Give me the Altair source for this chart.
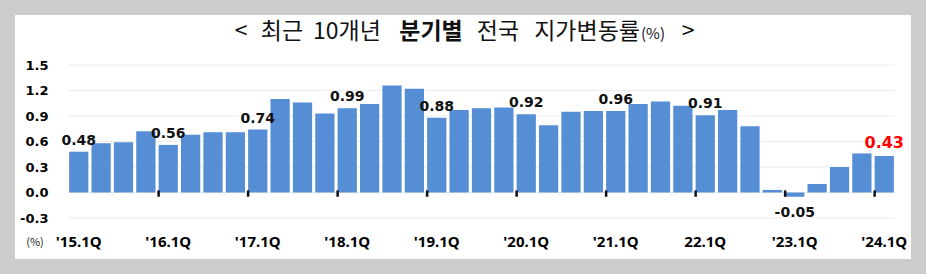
import altair as alt
import pandas as pd

# ---- data ----
quarters = [
    "'15.1Q", "15.2Q", "15.3Q", "15.4Q",
    "'16.1Q", "16.2Q", "16.3Q", "16.4Q",
    "'17.1Q", "17.2Q", "17.3Q", "17.4Q",
    "'18.1Q", "18.2Q", "18.3Q", "18.4Q",
    "'19.1Q", "19.2Q", "19.3Q", "19.4Q",
    "'20.1Q", "20.2Q", "20.3Q", "20.4Q",
    "'21.1Q", "21.2Q", "21.3Q", "21.4Q",
    "22.1Q", "22.2Q", "22.3Q", "22.4Q",
    "'23.1Q", "23.2Q", "23.3Q", "23.4Q",
    "'24.1Q",
]
rates = [
    0.48, 0.58, 0.59, 0.72,
    0.56, 0.68, 0.71, 0.71,
    0.74, 1.10, 1.06, 0.93,
    0.99, 1.04, 1.26, 1.22,
    0.88, 0.97, 0.99, 1.00,
    0.92, 0.79, 0.95, 0.96,
    0.96, 1.04, 1.07, 1.02,
    0.91, 0.97, 0.78, 0.03,
    -0.05, 0.10, 0.30, 0.46,
    0.43,
]
tick_labels = ["'15.1Q", "'16.1Q", "'17.1Q", "'18.1Q", "'19.1Q",
               "'20.1Q", "'21.1Q", "22.1Q", "'23.1Q", "'24.1Q"]
labels_above = ["'15.1Q", "'16.1Q", "'17.1Q", "'18.1Q", "'19.1Q",
                "'20.1Q", "'21.1Q", "22.1Q"]
labels_below = ["'23.1Q"]
labels_highlight = ["'24.1Q"]
y_ticks = [-0.3, 0.0, 0.3, 0.6, 0.9, 1.2, 1.5]

df = pd.DataFrame({"q": quarters, "v": rates})
grid_df = pd.DataFrame({"g": y_ticks})
one = pd.DataFrame({"a": [0]})

BAR = "#558ED5"
NUM_FONT = "DejaVu Sans"
KR_FONT = "Noto Sans CJK KR"

xscale = alt.Scale(domain=quarters, paddingInner=0.14, paddingOuter=0.05)
xaxis = alt.Axis(values=tick_labels, title=None, domain=False, ticks=False,
                 grid=False, labelAngle=0, labelFont="Noto Sans",
                 labelFontWeight="bold", labelFontSize=15, labelColor="#000",
                 labelPadding=16, zindex=1)
X = alt.X("q:N", scale=xscale, axis=xaxis)
yscale = alt.Scale(domain=[-0.3, 1.5], nice=False, zero=False)
yaxis = alt.Axis(values=y_ticks, title=None, domain=False, ticks=False,
                 grid=False, zindex=1,
                 labelFont=NUM_FONT, labelFontWeight="bold", labelFontSize=13,
                 labelColor="#000", labelPadding=20,
                 labelExpr="datum.value < 0 ? '-' + format(-datum.value, '.1f') : format(datum.value, '.1f')")
Y = alt.Y("v:Q", scale=yscale, axis=yaxis)

base = alt.Chart(df)

panel = alt.Chart(one).mark_rect(color="white").encode(
    x=alt.value(-53), x2=alt.value(843), y=alt.value(-50), y2=alt.value(194)
)

grid = alt.Chart(grid_df).mark_rule(color="#ececec", strokeWidth=1).encode(
    y=alt.Y("g:Q", scale=yscale, axis=yaxis),
    x=alt.value(0), x2=alt.value(827),
)

bars = base.mark_bar(color=BAR).encode(x=X, y=Y)

ticks = base.transform_filter(
    alt.FieldOneOfPredicate(field="q", oneOf=tick_labels[1:])
).mark_rule(color="#111", strokeWidth=2.5).encode(
    x=alt.X("q:N", scale=xscale, axis=xaxis, bandPosition=0),
    y=alt.datum(0.025, scale=yscale, axis=yaxis),
    y2=alt.datum(-0.05),
)

lab_expr = "datum.v < 0 ? '-' + format(-datum.v, '.2f') : format(datum.v, '.2f')"

above = base.transform_filter(
    alt.FieldOneOfPredicate(field="q", oneOf=labels_above)
).transform_calculate(t=lab_expr).mark_text(
    font=NUM_FONT, fontWeight="bold", fontSize=14, color="#111",
    baseline="bottom", dy=-4
).encode(x=X, y=Y, text="t:N")

below = base.transform_filter(
    alt.FieldOneOfPredicate(field="q", oneOf=labels_below)
).transform_calculate(t=lab_expr).mark_text(
    font=NUM_FONT, fontWeight="bold", fontSize=14, color="#111",
    baseline="top", dy=9
).encode(x=X, y=Y, text="t:N")

high = base.transform_filter(
    alt.FieldOneOfPredicate(field="q", oneOf=labels_highlight)
).transform_calculate(t=lab_expr).mark_text(
    font=NUM_FONT, fontWeight="bold", fontSize=16, color="#FF0000",
    baseline="bottom", dy=-5
).encode(x=X, y=Y, text="t:N")


def word(txt, xpos, align="center", bold=False, size=23, font=KR_FONT, yc=-33):
    return alt.Chart(one).mark_text(
        text=txt, font=font, fontSize=size,
        fontWeight="bold" if bold else "normal", color="#111",
        align=align, baseline="middle"
    ).encode(x=alt.value(xpos - 68), y=alt.value(yc))


title_parts = [
    word("<", 241),
    word("최근", 282),
    word("10개년", 347),
    word("분기별", 431, bold=True),
    word("전국", 498),
    word("지가변동률", 640, align="right"),
    word("(%)", 641, align="left", size=15, yc=-31),
    word(">", 688),
]

unit = alt.Chart(one).mark_text(
    text="(%)", font=KR_FONT, fontSize=11, color="#222",
    align="center", baseline="middle"
).encode(x=alt.value(35 - 68), y=alt.value(243 - 65))

chart = alt.layer(panel, grid, bars, ticks, above, below, high, unit, *title_parts).properties(
    width=827, height=153,
    padding={"left": 68, "top": 65, "right": 31, "bottom": 56},
    autosize=alt.AutoSizeParams(type="none"),
    background="#cccccc",
).configure_view(stroke=None)

chart.save("out.html", embed_options={"renderer": "svg", "actions": False})
